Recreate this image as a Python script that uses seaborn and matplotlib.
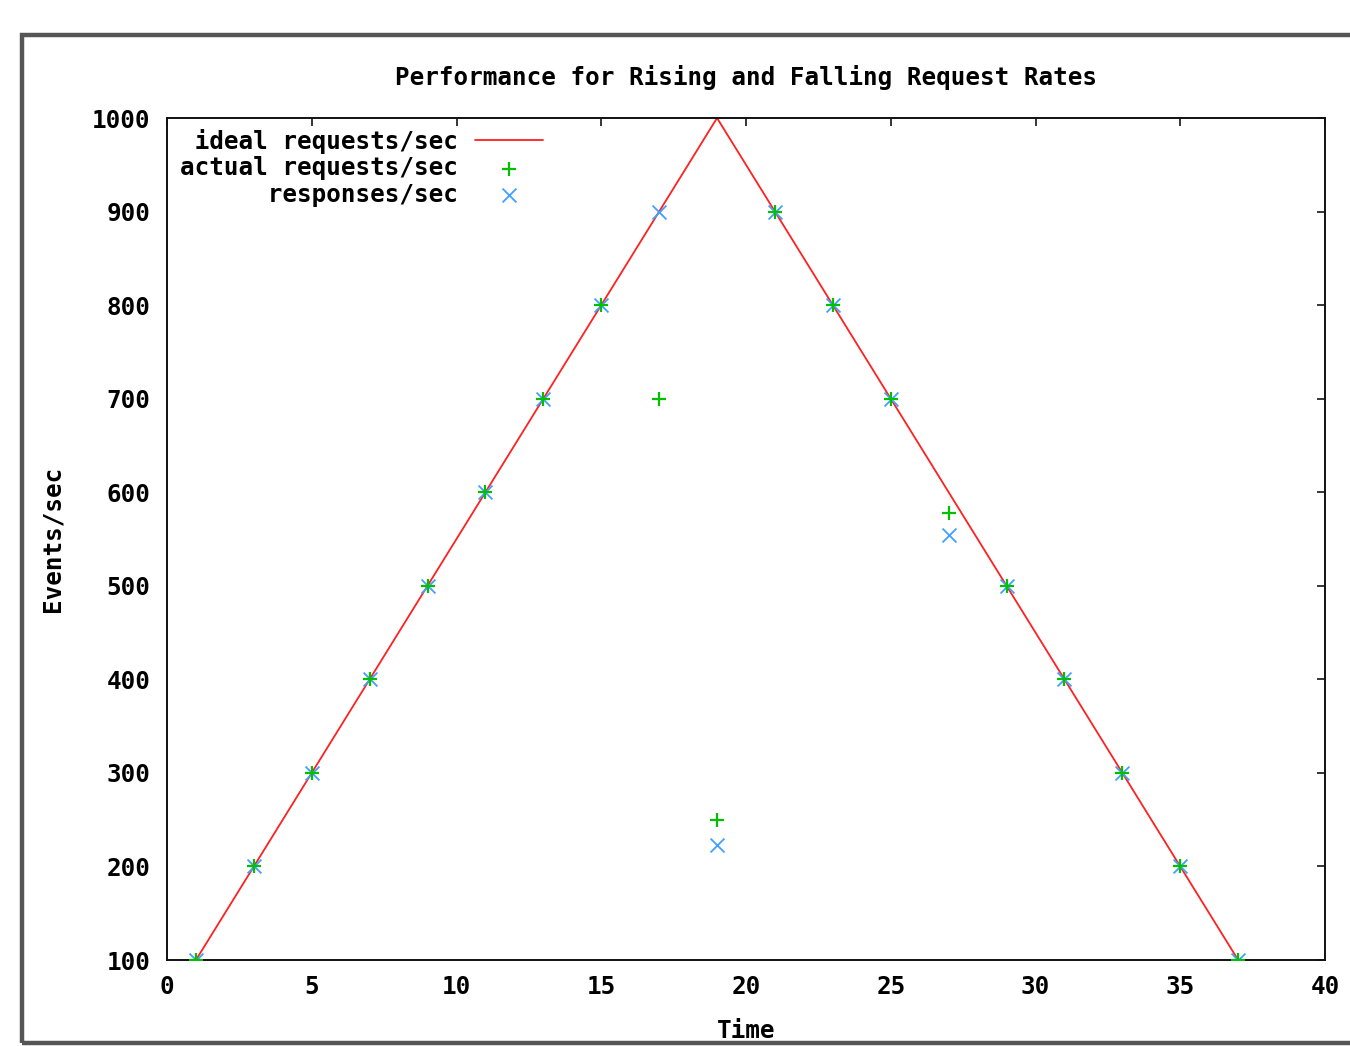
import numpy as np
import pandas as pd
import matplotlib
matplotlib.use("Agg")
import matplotlib.pyplot as plt
from matplotlib.patches import Rectangle
import seaborn as sns

# data
ideal_time = [1, 19, 37]
ideal_rate = [100, 1000, 100]

sample_time = [1, 3, 5, 7, 9, 11, 13, 15, 17, 19, 21, 23, 25, 27, 29, 31, 33, 35, 37]
actual_rate = [100, 200, 300, 400, 500, 600, 700, 800, 700, 250,
               900, 800, 700, 578, 500, 400, 300, 200, 100]
response_rate = [100, 200, 300, 400, 500, 600, 700, 800, 900, 223,
                 900, 800, 700, 554, 500, 400, 300, 200, 100]

x_ticks = [0, 5, 10, 15, 20, 25, 30, 35, 40]
y_ticks = [100, 200, 300, 400, 500, 600, 700, 800, 900, 1000]

sns.set_style("white")
plt.rcParams['font.family'] = ['DejaVu Sans Mono']
plt.rcParams['font.weight'] = 'bold'
plt.rcParams['text.color'] = 'black'
plt.rcParams['axes.labelcolor'] = 'black'
plt.rcParams['xtick.color'] = 'black'
plt.rcParams['ytick.color'] = 'black'
FS = 17.5

ideal_df = pd.DataFrame({"Time": ideal_time, "rate": ideal_rate})
pts_df = pd.DataFrame({"Time": sample_time, "actual": actual_rate, "resp": response_rate})

fig = plt.figure(figsize=(13.5, 10.46), dpi=100)
ax = fig.add_axes([167 / 1350, 1 - 960 / 1046, (1325 - 167) / 1350, (960 - 118) / 1046])

sns.lineplot(data=ideal_df, x="Time", y="rate", color="#ff2020", linewidth=1.3,
             ax=ax, label="ideal requests/sec")
sns.scatterplot(data=pts_df, x="Time", y="actual", marker="+", color="#00c000",
                s=115, linewidth=1.6, ax=ax, label="actual requests/sec", zorder=4)
sns.scatterplot(data=pts_df, x="Time", y="resp", marker="x", color="#40a0ff",
                s=100, linewidth=1.3, ax=ax, label="responses/sec", zorder=3)

ax.set_xlim(0, 40)
ax.set_ylim(100, 1000)
ax.set_xticks(x_ticks)
ax.set_yticks(y_ticks)
ax.tick_params(direction="in", length=6, width=1.1, top=True, right=True,
               labelsize=FS, color="black", labelcolor="black")
ax.tick_params(axis="x", pad=11)
ax.tick_params(axis="y", pad=12)
for sp in ax.spines.values():
    sp.set_color("#111111")
    sp.set_linewidth(1.4)

ax.set_xlabel("Time", fontsize=FS, fontweight="bold", labelpad=14)
ax.set_ylabel("Events/sec", fontsize=FS, fontweight="bold", labelpad=20)
ax.set_title("Performance for Rising and Falling Request Rates",
             fontsize=FS, fontweight="bold", pad=24)

# gnuplot-style legend: text right-aligned, keys on the right
labels = ["ideal requests/sec", "actual requests/sec", "responses/sec"]
w = max(len(l) for l in labels)
handles, _ = ax.get_legend_handles_labels()
ax.legend(handles, [l.rjust(w) for l in labels], loc="upper left",
          bbox_to_anchor=(0.0112, 0.987), frameon=False, markerfirst=False,
          prop={"family": "DejaVu Sans Mono", "weight": "bold", "size": FS},
          handlelength=2.8, handletextpad=0.7, labelspacing=0.1,
          borderpad=0, borderaxespad=0)

# outer grey frame
fig.patches.append(Rectangle((22 / 1350, 1 - 1043 / 1046), 1.2, (1043 - 35) / 1046,
                             transform=fig.transFigure, fill=False,
                             edgecolor="#555555", linewidth=3.2, clip_on=False))

fig.savefig("out.png", dpi=100)
